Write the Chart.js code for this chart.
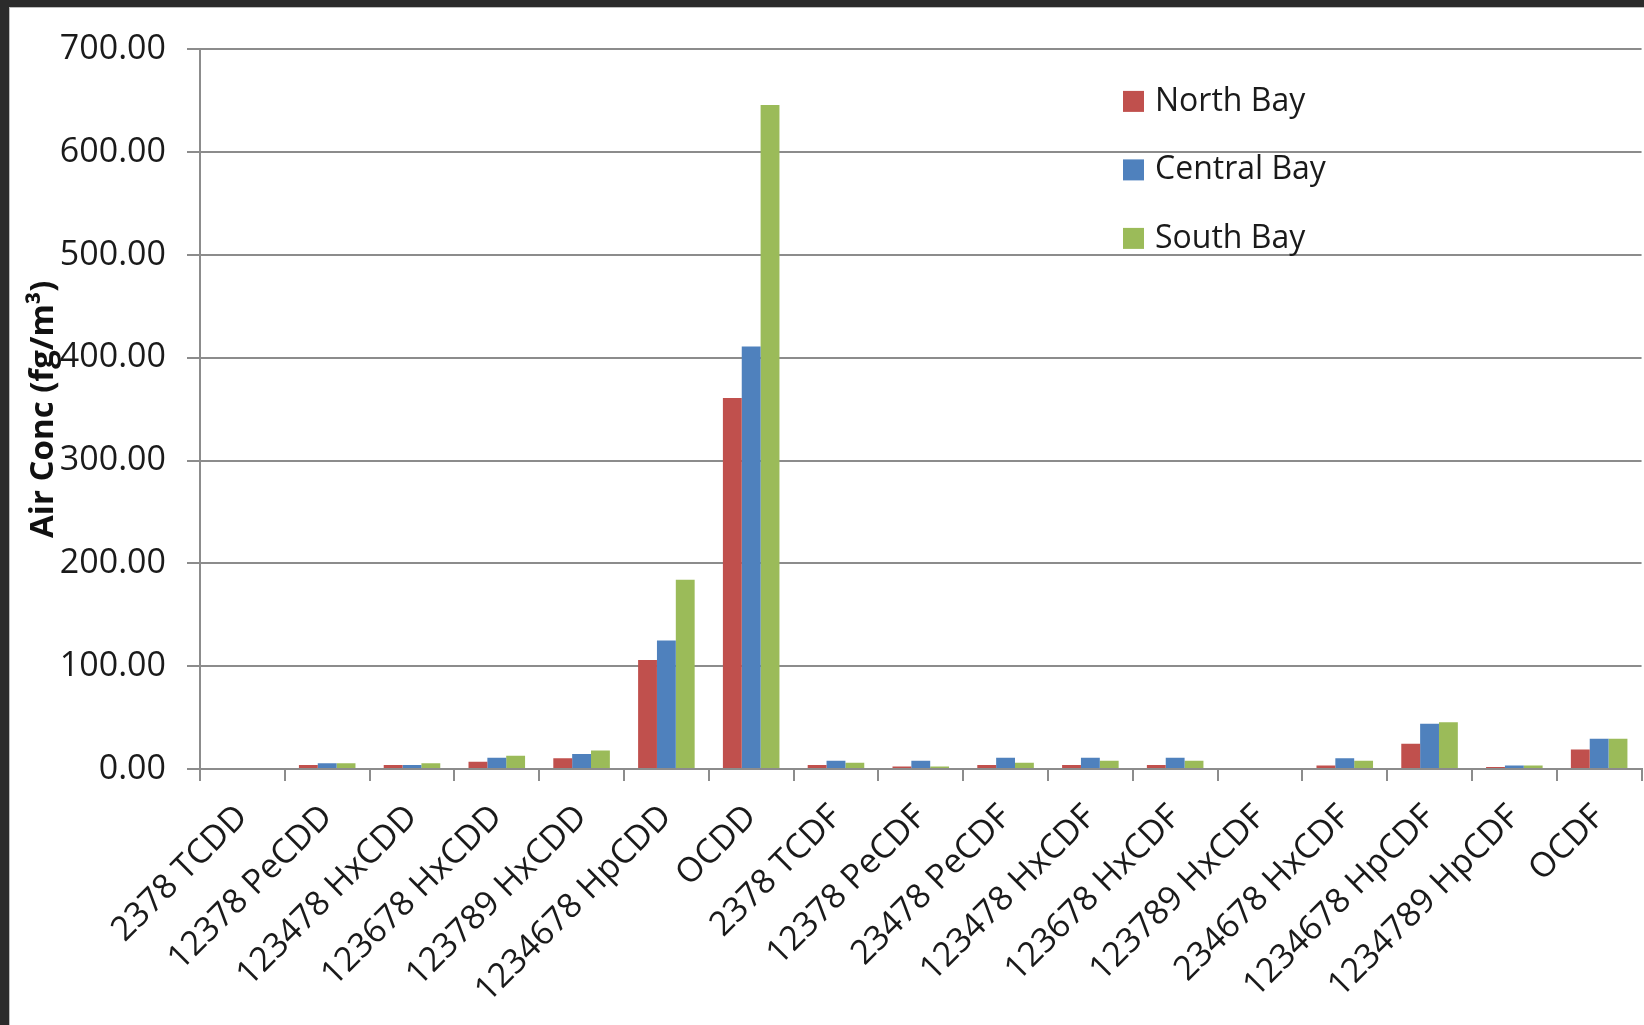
<!DOCTYPE html>
<html>
<head>
<meta charset="utf-8">
<script src="https://cdn.jsdelivr.net/npm/chart.js@4.4.0/dist/chart.umd.min.js"></script>
<style>
	html, body { margin: 0; padding: 0; background: #2b2b2b; width: 1644px; height: 1025px; overflow: hidden; }
	#frame { position: absolute; left: 9px; top: 7px; width: 1635px; height: 1018px; background: #ffffff; border-left: 1px solid #bdbdbd; border-top: 1px solid #bdbdbd; }
	#air_chart { position: absolute; left: 0; top: 0; }
</style>
</head>
<body>
<div id="frame"><canvas id="air_chart" width="1634" height="1017"></canvas></div>
<script>
// 항목(congener) 목록
const congeners = [
	'2378 TCDD', '12378 PeCDD', '123478 HxCDD', '123678 HxCDD', '123789 HxCDD',
	'1234678 HpCDD', 'OCDD', '2378 TCDF', '12378 PeCDF', '23478 PeCDF',
	'123478 HxCDF', '123678 HxCDF', '123789 HxCDF', '234678 HxCDF',
	'1234678 HpCDF', '1234789 HpCDF', 'OCDF'
]

const seriesNames = ['North Bay', 'Central Bay', 'South Bay']

// 지역별 농도 (fg/m3)
const northBay = [0, 4, 4, 7, 10.5, 106, 361, 4, 2.5, 4, 4, 4, 0, 3.5, 24.5, 2, 19]
const centralBay = [0, 5.5, 4, 11, 14.5, 125, 411, 8, 8, 11, 11, 11, 0, 10.5, 44, 3.5, 29.5]
const southBay = [0, 5.5, 5.5, 13, 18, 184, 646, 6, 2.5, 6, 8, 8, 0, 8, 45.5, 3.5, 29.5]

const yTicks = [0, 100, 200, 300, 400, 500, 600, 700]

const barColors = ['#C0504D', '#4F81BD', '#9BBB59']
const gridGray = '#8c8c8c'
const fontName = "'Open Sans', 'Liberation Sans', sans-serif"

// 범례 (차트 영역 안쪽, 세로 배치)
const innerLegend = {
	id: 'innerLegend',
	afterDraw(chart) {
		const ctx = chart.ctx
		const area = chart.chartArea
		const x = area.left + 923
		ctx.save()
		ctx.font = '32px ' + fontName
		ctx.textBaseline = 'middle'
		chart.data.datasets.forEach((ds, i) => {
			const y = area.top + 52 + i * 68.5
			ctx.fillStyle = ds.backgroundColor
			ctx.fillRect(x, y - 10.5, 21, 21)
			ctx.fillStyle = '#1a1a1a'
			ctx.fillText(ds.label, x + 32, y)
		})
		ctx.restore()
	}
}

const ctx = document.getElementById('air_chart').getContext('2d')
const air_chart = new Chart(ctx, {
	type: 'bar',
	data: {
		labels: congeners,
		datasets: [
			{ label: seriesNames[0], data: northBay, backgroundColor: barColors[0] },
			{ label: seriesNames[1], data: centralBay, backgroundColor: barColors[1] },
			{ label: seriesNames[2], data: southBay, backgroundColor: barColors[2] }
		]
	},
	options: {
		responsive: false,
		animation: false,
		datasets: {
			bar: { categoryPercentage: 0.667, barPercentage: 1.0 }
		},
		layout: { padding: { top: 41, right: 0, left: 0, bottom: 0 } },
		plugins: {
			legend: { display: false },
			tooltip: { enabled: false }
		},
		scales: {
			x: {
				offset: true,
				grid: {
					display: true,
					offset: true,
					drawOnChartArea: false,
					drawTicks: true,
					tickLength: 12,
					color: gridGray,
					lineWidth: 2
				},
				border: { display: true, color: gridGray, width: 2 },
				ticks: {
					autoSkip: false,
					maxRotation: 45,
					minRotation: 45,
					padding: 16,
					color: '#1a1a1a',
					font: { family: fontName, size: 34 }
				},
				afterFit(scale) { scale.height = 256 }
			},
			y: {
				min: 0,
				max: 700,
				afterBuildTicks(scale) { scale.ticks = yTicks.map(v => ({ value: v })) },
				grid: {
					color: gridGray,
					lineWidth: 2,
					tickLength: 13
				},
				border: { display: true, color: gridGray, width: 2 },
				ticks: {
					padding: 21,
					color: '#1a1a1a',
					font: { family: fontName, size: 34 },
					callback: v => Number(v).toFixed(2)
				},
				title: {
					display: true,
					text: 'Air Conc (fg/m\u00B3)',
					color: '#111111',
					font: { family: fontName, size: 33, weight: 'bold' },
					padding: { top: 14, bottom: 0 }
				},
				afterFit(scale) { scale.width = 190 }
			}
		}
	},
	plugins: [innerLegend]
})
</script>
</body>
</html>
